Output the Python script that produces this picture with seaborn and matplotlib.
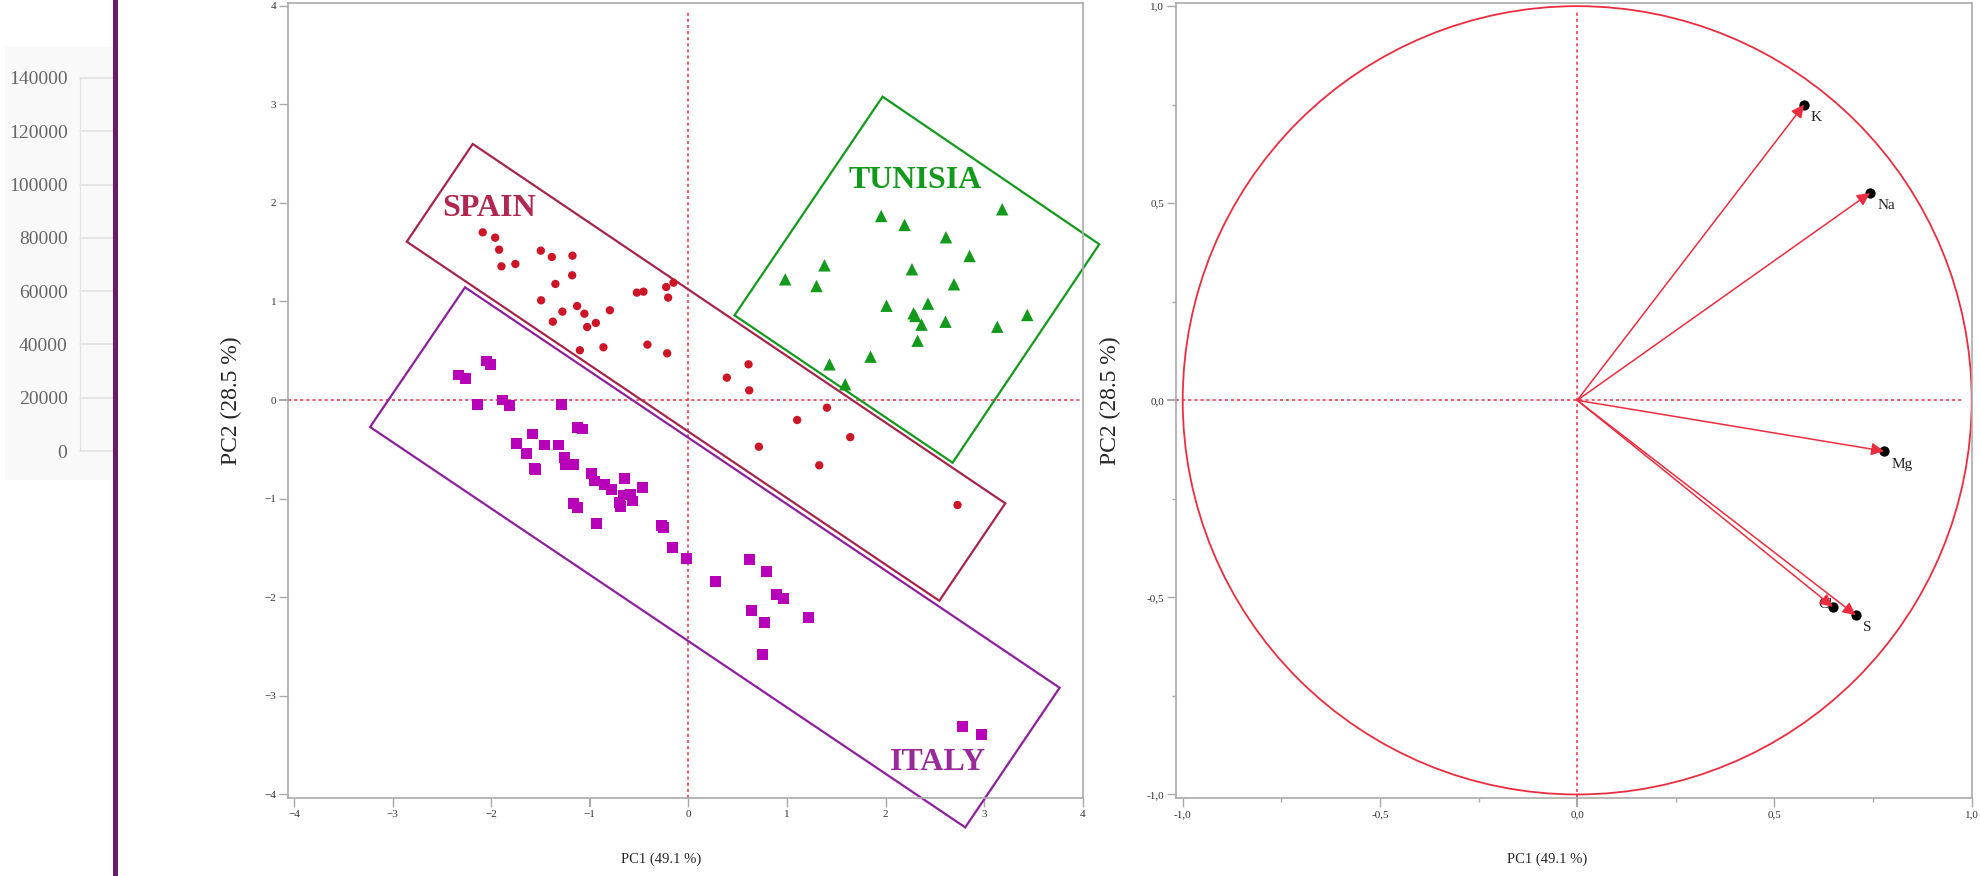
# -*- coding: utf-8 -*-
# PCA score plot + correlation circle

import pandas as pd
import seaborn as sns
import matplotlib.pyplot as plt
from matplotlib.patches import Polygon, Circle, Rectangle

# scores on PC1 / PC2
spain_pc1 = [-2.086, -1.960, -1.920, -1.896, -1.755, -1.497, -1.385, -1.176, -1.179, -1.349,
             -1.494, -1.278, -1.375, -1.129, -1.055, -0.939, -1.027, -0.797, -1.101, -0.862,
             -0.523, -0.456, -0.416, -0.226, -0.152, -0.206, -0.216, 0.389, 0.609, 0.616,
             1.404, 1.102, 1.640, 0.714, 1.326, 2.728]
spain_pc2 = [1.702, 1.648, 1.526, 1.357, 1.381, 1.516, 1.452, 1.465, 1.266, 1.178,
             1.012, 0.897, 0.795, 0.954, 0.876, 0.782, 0.741, 0.911, 0.505, 0.535,
             1.090, 1.100, 0.562, 1.147, 1.191, 1.039, 0.474, 0.227, 0.362, 0.098,
             -0.078, -0.203, -0.377, -0.474, -0.663, -1.066]

tunisia_pc1 = [1.954, 2.191, 3.181, 2.611, 2.850, 1.379, 0.981, 1.298, 2.266, 2.692,
               2.008, 2.428, 2.282, 2.300, 2.363, 2.606, 3.131, 3.435, 2.323, 1.846,
               1.430, 1.589]
tunisia_pc2 = [1.868, 1.777, 1.936, 1.652, 1.462, 1.367, 1.225, 1.157, 1.327, 1.175,
               0.957, 0.978, 0.880, 0.853, 0.765, 0.795, 0.744, 0.863, 0.602, 0.440,
               0.362, 0.159]

italy_pc1 = [-2.331, -2.262, -2.049, -2.011, -2.140, -1.886, -1.815, -1.288, -1.129, -1.078,
             -1.582, -1.744, -1.460, -1.318, -1.643, -1.258, -1.166, -1.250, -1.565, -1.555,
             -0.984, -0.953, -0.855, -0.784, -0.649, -0.462, -0.659, -0.591, -0.564, -0.703,
             -0.693, -1.166, -1.126, -0.936, -0.270, -0.254, -0.162, -0.020, 0.619, 0.791,
             0.274, 0.896, 0.963, 0.639, 0.771, 1.217, 0.751, 2.779, 2.972]
italy_pc2 = [0.254, 0.220, 0.396, 0.362, -0.041, 0.000, -0.058, -0.041, -0.277, -0.294,
             -0.345, -0.440, -0.457, -0.457, -0.541, -0.586, -0.650, -0.653, -0.694, -0.710,
             -0.745, -0.822, -0.853, -0.907, -0.795, -0.886, -0.964, -0.954, -1.025, -1.043,
             -1.083, -1.049, -1.090, -1.252, -1.276, -1.293, -1.499, -1.607, -1.618, -1.739,
             -1.841, -1.970, -2.014, -2.135, -2.257, -2.206, -2.582, -3.310, -3.394]

# group boxes drawn around the clusters (corners in PC units)
spain_box = [(-2.187, 2.599), (3.212, -1.049), (2.543, -2.038), (-2.856, 1.607)]
italy_box = [(-2.265, 1.144), (3.763, -2.921), (2.806, -4.338), (-3.228, -0.274)]
tunisia_box = [(1.968, 3.079), (4.165, 1.581), (2.678, -0.636), (0.467, 0.860)]

# loadings for the correlation circle
var_names = ['K', 'Na', 'Mg', 'Cl', 'S']
load_pc1 = [0.575, 0.742, 0.778, 0.648, 0.706]
load_pc2 = [0.750, 0.526, -0.129, -0.524, -0.545]

# ticks of the cut-off chart on the far left
stub_ticks = [0, 20000, 40000, 60000, 80000, 100000, 120000, 140000]

red = '#ec2d3f'
spine_c = '#aaaaaa'
colors = {'Spain': '#cc1526', 'Tunisia': '#139a1c', 'Italy': '#b800b8'}
box_colors = {'Spain': '#a8254a', 'Tunisia': '#139a1c', 'Italy': '#8e1f9e'}
text_colors = {'Spain': '#b0284f', 'Tunisia': '#139a1c', 'Italy': '#9a2a9a'}

scores = pd.DataFrame({
    'PC1': spain_pc1 + tunisia_pc1 + italy_pc1,
    'PC2': spain_pc2 + tunisia_pc2 + italy_pc2,
    'country': ['Spain'] * len(spain_pc1) + ['Tunisia'] * len(tunisia_pc1) + ['Italy'] * len(italy_pc1),
})
loadings = pd.DataFrame({'PC1': load_pc1, 'PC2': load_pc2, 'var': var_names})

sns.set_style("ticks")
plt.rcParams['font.family'] = ['Liberation Serif', 'DejaVu Serif']

fig = plt.figure(figsize=(19.8, 8.76), dpi=100)

# ---- leftover strip of another chart + purple bar ----
fig.patches.append(Rectangle((5 / 1980, 1 - 480 / 876), 108 / 1980, 433 / 876,
                             transform=fig.transFigure, fc='#f9f9f9', ec='none', zorder=-2))
fig.patches.append(Rectangle((113 / 1980, 0), 5 / 1980, 1, transform=fig.transFigure,
                             fc='#6a1b6c', ec='none', zorder=5))
ax0 = fig.add_axes([80 / 1980, 1 - 451 / 876, 33 / 1980, 373 / 876])
ax0.set_facecolor('none')
ax0.set_ylim(0, 140000)
ax0.set_xlim(0, 1)
ax0.set_yticks(stub_ticks)
ax0.set_yticklabels([str(t) for t in stub_ticks])
ax0.set_xticks([])
for t in stub_ticks:
    ax0.axhline(t, color='#e2e2e2', lw=1.2, clip_on=False)
for s in ['top', 'right', 'bottom']:
    ax0.spines[s].set_visible(False)
ax0.spines['left'].set_color('#e2e2e2')
ax0.tick_params(axis='y', length=0, pad=9, labelsize=14, labelcolor='#666666')

# ---- PCA score plot ----
ax1 = fig.add_axes([288 / 1980, 1 - 798 / 876, 795 / 1980, 795 / 876])
ax1.axhline(0, color=red, lw=1.1, ls=(0, (2, 2)), zorder=1)
ax1.axvline(0, color=red, lw=1.1, ls=(0, (2, 2)), ymax=0.99, zorder=1)

sns.scatterplot(data=scores, x='PC1', y='PC2', hue='country', style='country',
                size='country', palette=colors,
                markers={'Spain': 'o', 'Tunisia': '^', 'Italy': 's'},
                sizes={'Spain': 36, 'Tunisia': 80, 'Italy': 62},
                linewidth=0, legend=False, ax=ax1, zorder=3)

for name, box in [('Spain', spain_box), ('Italy', italy_box), ('Tunisia', tunisia_box)]:
    ax1.add_patch(Polygon(box, closed=True, fill=False, ec=box_colors[name], lw=1.6,
                          clip_on=False, zorder=2))

ax1.text(-2.02, 1.94, 'SPAIN', color=text_colors['Spain'], fontsize=23, fontweight='bold',
         ha='center', va='center')
ax1.text(2.30, 2.23, 'TUNISIA', color=text_colors['Tunisia'], fontsize=23, fontweight='bold',
         ha='center', va='center')
ax1.text(2.53, -3.68, 'ITALY', color=text_colors['Italy'], fontsize=23, fontweight='bold',
         ha='center', va='center')

ax1.set_xlim(-4.06, 4.0)
ax1.set_ylim(-4.04, 4.03)
ax1.set_xticks(range(-4, 5))
ax1.set_yticks(range(-4, 5))
ax1.set_xlabel('PC1 (49.1 %)', fontsize=10.5)
ax1.set_ylabel('PC2 (28.5 %)', fontsize=17)
ax1.xaxis.set_label_coords(0.469, -0.068)
ax1.yaxis.set_label_coords(-0.058, 0.5)

# ---- correlation circle ----
ax2 = fig.add_axes([1176 / 1980, 1 - 798 / 876, 795.7 / 1980, 795 / 876])
ax2.axhline(0, color=red, lw=1.1, ls=(0, (2, 2)), xmax=0.99, zorder=1)
ax2.axvline(0, color=red, lw=1.1, ls=(0, (2, 2)), ymax=0.99, zorder=1)
ax2.add_patch(Circle((0, 0), 1, fill=False, ec=red, lw=1.3, zorder=2))

sns.scatterplot(data=loadings, x='PC1', y='PC2', color='black', s=55, linewidth=0,
                legend=False, ax=ax2, zorder=3)
for x, y in zip(load_pc1, load_pc2):
    ax2.annotate('', xy=(x, y), xytext=(0, 0), zorder=4,
                 arrowprops=dict(arrowstyle='-|>', color=red, lw=1.1, mutation_scale=19,
                                 shrinkA=0, shrinkB=0))

label_offsets = {'K': (9, -9), 'Na': (12, -9), 'Mg': (13, -9.5), 'Cl': (-5.5, 2), 'S': (8.5, -9)}
for name, x, y in zip(var_names, load_pc1, load_pc2):
    ax2.annotate(name, xy=(x, y), xytext=label_offsets[name], textcoords='offset points',
                 ha='center', va='center', fontsize=11, color='#222222', zorder=2)

ax2.set_xlim(-1.017, 1.0)
ax2.set_ylim(-1.009, 1.008)
ax2.set_xticks([-1, -0.5, 0, 0.5, 1])
ax2.set_yticks([-1, -0.5, 0, 0.5, 1])
ax2.set_xticks([-0.75, -0.25, 0.25, 0.75], minor=True)
ax2.set_yticks([-0.75, -0.25, 0.25, 0.75], minor=True)
fmt = ['-1,0', '-0,5', '0,0', '0,5', '1,0']
ax2.set_xticklabels(fmt)
ax2.set_yticklabels(fmt)
ax2.set_xlabel('PC1 (49.1 %)', fontsize=10.5)
ax2.set_ylabel('PC2 (28.5 %)', fontsize=17)
ax2.xaxis.set_label_coords(0.466, -0.068)
ax2.yaxis.set_label_coords(-0.069, 0.5)

for ax in [ax1, ax2]:
    for s in ax.spines.values():
        s.set_color(spine_c)
        s.set_linewidth(1.2)
    ax.tick_params(which='major', direction='out', length=6.5, width=1, color=spine_c,
                   labelsize=8, labelcolor='#333333', pad=2)
    ax.tick_params(which='minor', direction='out', length=3, width=1, color=spine_c)
    # zero ticks drawn in red, continuing the dashed lines
    for tick in ax.xaxis.get_major_ticks() + ax.yaxis.get_major_ticks():
        if abs(tick.get_loc()) < 1e-9:
            tick.tick1line.set_color(red)
            tick.tick1line.set_markeredgewidth(1.5)

fig.savefig('out.png', dpi=100)
